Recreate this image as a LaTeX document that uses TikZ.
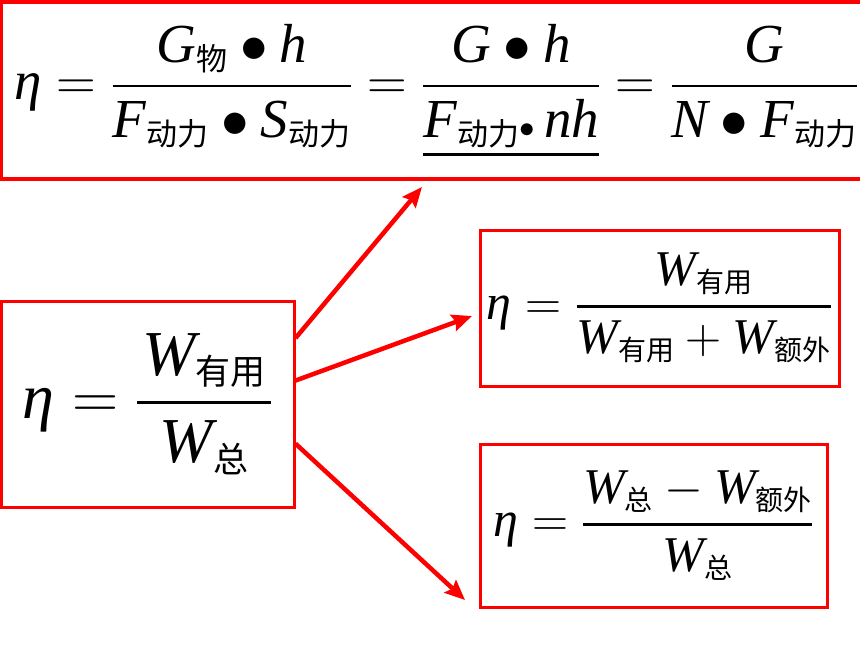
\RequirePackage{fix-cm}
\documentclass[tikz,border=0pt]{standalone}
\usepackage{amsmath}
\usepackage{fontspec}
\setmainfont{Liberation Serif}
\newfontfamily\cjk{Noto Sans CJK SC}
\usetikzlibrary{arrows.meta}
\DeclareMathSizes{64}{64}{35}{27}
\DeclareMathSizes{55}{55}{31}{24}
\DeclareMathSizes{50}{50}{28}{22}
\newcommand{\zh}[1]{\text{\cjk #1}}
\newcommand{\vi}[1]{\mathit{#1}}
\newcommand{\etasym}{\mbox{\itshape η}}
\newcommand{\fr}[2]{\genfrac{}{}{2.6pt}{0}{#1}{#2}}
\newcommand{\ul}[1]{\vtop{\hbox{$\displaystyle #1$}\kern5pt\hrule height 2.4pt}}
\tikzset{
	formbox/.style={draw=red,line width=3pt,inner sep=0pt,align=center},
	redarrow/.style={red,line width=4.5pt,-{Stealth[length=20pt,width=17pt,inset=3pt]}}
}

\begin{document}
\begin{tikzpicture}[x=1pt,y=-1pt]
	\useasboundingbox (0,0) rectangle (860,645);
	\clip (0,0) rectangle (860,645);
	% boxes
	\node[formbox,line width=4pt,minimum width=870pt,minimum height=177pt] (top) at (436,90)
		{\fontsize{55}{64}\selectfont $\displaystyle \etasym=\fr{\,\vi{G}_{\zh{物}}\bullet\vi{h}\,}{\vi{F}_{\zh{动力}}\bullet\vi{S}_{\zh{动力}}}=\fr{\vi{G}\bullet\vi{h}}{\ul{\vi{F}_{\zh{动力}}{\scriptstyle\bullet}\,\vi{nh}}}=\fr{\vi{G}}{\vi{N}\bullet\vi{F}_{\zh{动力}}}$};
	\node[formbox,minimum width=293pt,minimum height=206pt] (main) at (147.5,404)
		{\fontsize{64}{76}\selectfont $\displaystyle \etasym=\fr{\hspace{5pt}\vi{W}_{\zh{有用}}\hspace{5pt}}{\vi{W}_{\zh{总}}}$};
	\node[formbox,minimum width=359pt,minimum height=156pt] (useful) at (659.5,308)
		{\fontsize{50}{60}\selectfont $\displaystyle \etasym=\fr{\vi{W}_{\zh{有用}}}{\vi{W}_{\zh{有用}}+\vi{W}_{\zh{额外}}}$};
	\node[formbox,minimum width=347pt,minimum height=163pt] (total) at (653.5,525.5)
		{\fontsize{50}{60}\selectfont $\displaystyle \etasym=\fr{\vi{W}_{\zh{总}}-\vi{W}_{\zh{额外}}}{\vi{W}_{\zh{总}}}$};
	% arrows
	\coordinate (e1) at (422,187);
	\coordinate (e2) at (472,316);
	\coordinate (e3) at (465,600);
	\draw[redarrow] (main.24) -- (e1);
	\draw[redarrow] (main.9) -- (e2);
	\draw[redarrow] (main.-15) -- (e3);
\end{tikzpicture}
\end{document}
